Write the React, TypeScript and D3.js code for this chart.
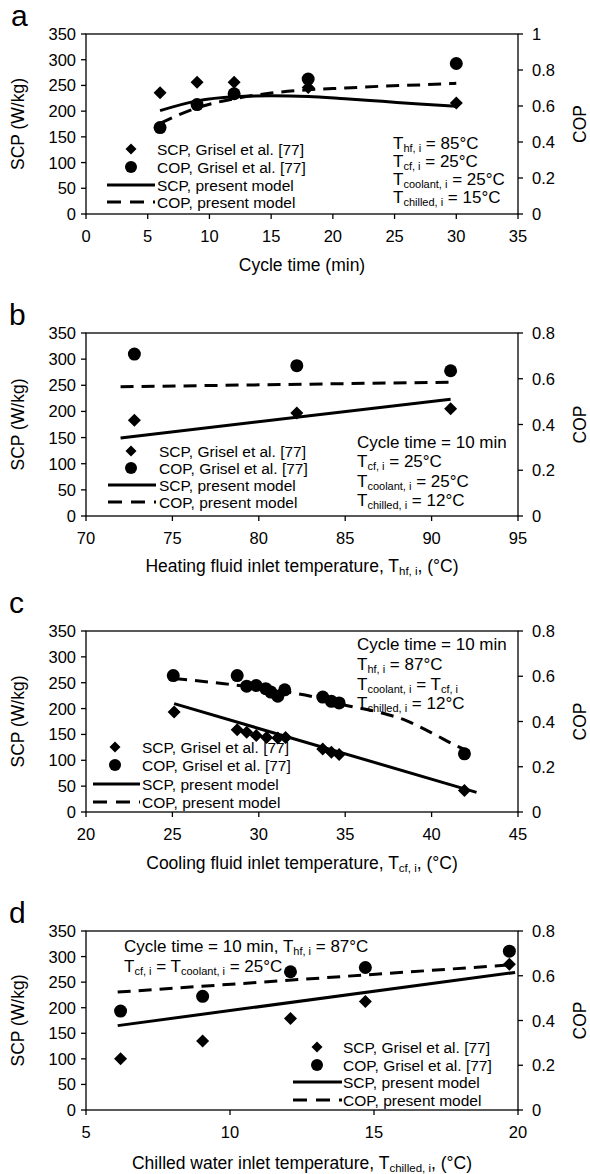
import React from "react";
import * as d3 from "d3";

// ---------- DATA ----------
// Panel a: cycle time (min)
const aExpX = [6, 9, 12, 18, 30];
const aExpScp = [236, 256, 256, 246, 216];
const aExpCop = [0.48, 0.608, 0.668, 0.75, 0.836];
const aModelX = [6, 9, 12, 15, 18, 21, 24, 27, 30];
const aModelScp = [201, 220, 228, 230, 228.6, 224, 219, 214, 209.5];
const aModelCop = [0.504, 0.59, 0.64, 0.672, 0.69, 0.7, 0.71, 0.717, 0.726];

// Panel b: heating fluid inlet temperature
const bExpX = [72.8, 82.2, 91.1];
const bExpScp = [183, 197, 205];
const bExpCop = [0.708, 0.657, 0.635];
const bModelX = [72, 91.1];
const bModelScp = [149, 223.5];
const bModelCop = [0.565, 0.585];

// Panel c: cooling fluid inlet temperature
const cExpScpX = [25.1, 28.75, 29.3, 29.85, 30.45, 31.1, 31.55, 33.7, 34.2, 34.65, 41.9];
const cExpScp = [193.5, 159, 154, 148, 144, 143, 144, 122, 115.6, 111, 41.5];
const cExpCopX = [25.05, 28.75, 29.3, 29.85, 30.4, 30.7, 31.1, 31.5, 33.7, 34.2, 34.65, 41.9];
const cExpCop = [0.603, 0.603, 0.556, 0.559, 0.545, 0.53, 0.512, 0.54, 0.508, 0.489, 0.482, 0.257];
const cModelScpX = [25.1, 42.6];
const cModelScp = [209.5, 38];
const cModelCopX = [25.1, 28, 31, 33, 35, 37, 38.5, 40, 41.5, 42.6];
const cModelCop = [0.59, 0.567, 0.538, 0.512, 0.472, 0.44, 0.405, 0.35, 0.29, 0.255];

// Panel d: chilled water inlet temperature
const dExpX = [6.2, 9.05, 12.1, 14.7, 19.7];
const dExpScp = [100, 135, 179, 212, 285];
const dExpCop = [0.442, 0.508, 0.618, 0.637, 0.71];
const dModelX = [6.1, 19.9];
const dModelScp = [165, 269];
const dModelCop = [0.527, 0.65];

// Ticks
const scpTicks = [0, 50, 100, 150, 200, 250, 300, 350];
const copTicksA = [0, 0.2, 0.4, 0.6, 0.8, 1];
const copTicks = [0, 0.2, 0.4, 0.6, 0.8];
const xTicksA = [0, 5, 10, 15, 20, 25, 30, 35];
const xTicksB = [70, 75, 80, 85, 90, 95];
const xTicksC = [20, 25, 30, 35, 40, 45];
const xTicksD = [5, 10, 15, 20];

const legendLabels = [
  "SCP, Grisel et al. [77]",
  "COP, Grisel et al. [77]",
  "SCP, present model",
  "COP, present model",
];

type Seg = { t?: string; sub?: string };

const FONT = "'Liberation Sans', Arial, Helvetica, sans-serif";
const L = 86;
const R = 518;

function Rich({ x, y, segs, size, subSize = 11, anchor = "start" }: any) {
  const out: any[] = [];
  let shifted = false;
  segs.forEach((s: Seg, i: number) => {
    if (s.sub !== undefined) {
      out.push(
        <tspan key={i} fontSize={subSize} dy={shifted ? 0 : 5}>
          {s.sub}
        </tspan>
      );
      shifted = true;
    } else {
      out.push(
        <tspan key={i} dy={shifted ? -5 : 0}>
          {s.t}
        </tspan>
      );
      shifted = false;
    }
  });
  return (
    <text x={x} y={y} fontSize={size} textAnchor={anchor} dominantBaseline="central" fontFamily={FONT} fill="#000">
      {out}
    </text>
  );
}

const diamond = (cx: number, cy: number, h: number) =>
  `M${cx},${cy - h}L${cx + h},${cy}L${cx},${cy + h}L${cx - h},${cy}Z`;

function Panel(p: any) {
  const x = d3.scaleLinear().domain(p.xDomain).range([L, R]);
  const yL = d3.scaleLinear().domain([0, 350]).range([p.bottom, p.top]);
  const yR = d3.scaleLinear().domain([0, p.copMax]).range([p.bottom, p.top]);
  const lineL = d3
    .line<number>()
    .x((_, i) => x(p.mScpX[i]))
    .y((v) => yL(v))
    .curve(d3.curveMonotoneX);
  const lineR = d3
    .line<number>()
    .x((_, i) => x(p.mCopX[i]))
    .y((v) => yR(v))
    .curve(d3.curveMonotoneX);
  const fmtR = (v: number) => (v === 0 ? "0" : v === 1 ? "1" : v.toFixed(1));
  const midY = (p.top + p.bottom) / 2;
  const lg = p.legend;
  return (
    <g>
      <text x={p.letterX} y={p.letterY} fontSize={30} fontFamily={FONT}>
        {p.letter}
      </text>
      {/* frame */}
      <rect x={L} y={p.top} width={R - L} height={p.bottom - p.top} fill="none" stroke="#000" strokeWidth={1.3} />
      {/* left ticks */}
      {scpTicks.map((t) => (
        <g key={"l" + t}>
          <line x1={L - 5} x2={L} y1={yL(t)} y2={yL(t)} stroke="#000" strokeWidth={1.3} />
          <text x={L - 10} y={yL(t)} textAnchor="end" dominantBaseline="central" fontSize={16.5} fontFamily={FONT}>
            {t}
          </text>
        </g>
      ))}
      {p.copTicks.map((t: number) => (
        <g key={"r" + t}>
          <line x1={R} x2={R + 5} y1={yR(t)} y2={yR(t)} stroke="#000" strokeWidth={1.3} />
          <text x={R + 14} y={yR(t)} textAnchor="start" dominantBaseline="central" fontSize={16.5} fontFamily={FONT}>
            {fmtR(t)}
          </text>
        </g>
      ))}
      {p.xTicks.map((t: number) => (
        <g key={"x" + t}>
          <line x1={x(t)} x2={x(t)} y1={p.bottom} y2={p.bottom + 5} stroke="#000" strokeWidth={1.3} />
          <text x={x(t)} y={p.bottom + 22} textAnchor="middle" dominantBaseline="central" fontSize={16.5} fontFamily={FONT}>
            {t}
          </text>
        </g>
      ))}
      <text
        transform={`translate(24,${midY}) rotate(-90)`}
        textAnchor="middle"
        fontSize={17.5}
        fontFamily={FONT}
      >
        SCP (W/kg)
      </text>
      <text
        transform={`translate(586,${midY}) rotate(-90)`}
        textAnchor="middle"
        fontSize={17.5}
        fontFamily={FONT}
      >
        COP
      </text>
      <Rich x={(L + R) / 2} y={p.titleY} segs={p.title} size={17.5} subSize={11.5} anchor="middle" />
      {/* model lines */}
      <path d={lineL(p.mScp) || ""} fill="none" stroke="#000" strokeWidth={3} />
      <path d={lineR(p.mCop) || ""} fill="none" stroke="#000" strokeWidth={3} strokeDasharray="13 8" />
      {/* experimental points */}
      {p.eScp.map((v: number, i: number) => (
        <path key={"d" + i} d={diamond(x(p.eScpX[i]), yL(v), 6.5)} fill="#000" />
      ))}
      {p.eCop.map((v: number, i: number) => (
        <circle key={"c" + i} cx={x(p.eCopX[i])} cy={yR(v)} r={6.5} fill="#000" />
      ))}
      {/* legend */}
      <path d={diamond(lg.mx, lg.rows[0], 5.5)} fill="#000" />
      <circle cx={lg.mx} cy={lg.rows[1]} r={6} fill="#000" />
      <line x1={lg.l0} x2={lg.l1} y1={lg.rows[2]} y2={lg.rows[2]} stroke="#000" strokeWidth={3} />
      <line x1={lg.l0} x2={lg.l1} y1={lg.rows[3]} y2={lg.rows[3]} stroke="#000" strokeWidth={3} strokeDasharray="14 9" />
      {legendLabels.map((s, i) => (
        <text key={"lg" + i} x={lg.tx} y={lg.rows[i]} dominantBaseline="central" fontSize={15.5} fontFamily={FONT}>
          {s}
        </text>
      ))}
      {p.notes.map((segs: Seg[], i: number) => (
        <Rich key={"n" + i} x={p.noteX} y={p.noteRows[i]} segs={segs} size={17} subSize={11} />
      ))}
    </g>
  );
}

export default function App() {
  const panels = [
    {
      letter: "a",
      letterX: 11,
      letterY: 26,
      top: 34,
      bottom: 214,
      titleY: 265,
      xDomain: [0, 35],
      xTicks: xTicksA,
      copMax: 1,
      copTicks: copTicksA,
      title: [{ t: "Cycle time (min)" }],
      eScpX: aExpX,
      eScp: aExpScp,
      eCopX: aExpX,
      eCop: aExpCop,
      mScpX: aModelX,
      mScp: aModelScp,
      mCopX: aModelX,
      mCop: aModelCop,
      legend: { mx: 131, tx: 157, l0: 107, l1: 155, rows: [149, 167, 185, 202] },
      noteX: 393,
      noteRows: [143, 161, 179, 197],
      notes: [
        [{ t: "T" }, { sub: "hf, i" }, { t: " = 85°C" }],
        [{ t: "T" }, { sub: "cf, i" }, { t: " = 25°C" }],
        [{ t: "T" }, { sub: "coolant, i" }, { t: " = 25°C" }],
        [{ t: "T" }, { sub: "chilled, i" }, { t: " = 15°C" }],
      ],
    },
    {
      letter: "b",
      letterX: 9,
      letterY: 325,
      top: 333,
      bottom: 516,
      titleY: 566,
      xDomain: [70, 95],
      xTicks: xTicksB,
      copMax: 0.8,
      copTicks: copTicks,
      title: [{ t: "Heating fluid inlet temperature, T" }, { sub: "hf, i" }, { t: ", (°C)" }],
      eScpX: bExpX,
      eScp: bExpScp,
      eCopX: bExpX,
      eCop: bExpCop,
      mScpX: bModelX,
      mScp: bModelScp,
      mCopX: bModelX,
      mCop: bModelCop,
      legend: { mx: 131, tx: 159, l0: 108, l1: 156, rows: [451, 468, 485, 502] },
      noteX: 357,
      noteRows: [442, 461, 481, 500],
      notes: [
        [{ t: "Cycle time = 10 min" }],
        [{ t: "T" }, { sub: "cf, i" }, { t: " = 25°C" }],
        [{ t: "T" }, { sub: "coolant, i" }, { t: " = 25°C" }],
        [{ t: "T" }, { sub: "chilled, i" }, { t: " = 12°C" }],
      ],
    },
    {
      letter: "c",
      letterX: 9,
      letterY: 613,
      top: 631,
      bottom: 812,
      titleY: 863,
      xDomain: [20, 45],
      xTicks: xTicksC,
      copMax: 0.8,
      copTicks: copTicks,
      title: [{ t: "Cooling fluid inlet temperature, T" }, { sub: "cf, i" }, { t: ", (°C)" }],
      eScpX: cExpScpX,
      eScp: cExpScp,
      eCopX: cExpCopX,
      eCop: cExpCop,
      mScpX: cModelScpX,
      mScp: cModelScp,
      mCopX: cModelCopX,
      mCop: cModelCop,
      legend: { mx: 115, tx: 142, l0: 93, l1: 140, rows: [747, 765, 784, 802] },
      noteX: 357,
      noteRows: [644, 664, 684, 703],
      notes: [
        [{ t: "Cycle time = 10 min" }],
        [{ t: "T" }, { sub: "hf, i" }, { t: " = 87°C" }],
        [{ t: "T" }, { sub: "coolant, i" }, { t: " = T" }, { sub: "cf, i" }],
        [{ t: "T" }, { sub: "chilled, i" }, { t: " = 12°C" }],
      ],
    },
    {
      letter: "d",
      letterX: 9,
      letterY: 923,
      top: 931,
      bottom: 1110,
      titleY: 1163,
      xDomain: [5, 20],
      xTicks: xTicksD,
      copMax: 0.8,
      copTicks: copTicks,
      title: [{ t: "Chilled water inlet temperature, T" }, { sub: "chilled, i" }, { t: ", (°C)" }],
      eScpX: dExpX,
      eScp: dExpScp,
      eCopX: dExpX,
      eCop: dExpCop,
      mScpX: dModelX,
      mScp: dModelScp,
      mCopX: dModelX,
      mCop: dModelCop,
      legend: { mx: 317, tx: 343, l0: 293, l1: 342, rows: [1047, 1065, 1082, 1100] },
      noteX: 124,
      noteRows: [946, 966],
      notes: [
        [{ t: "Cycle time = 10 min, T" }, { sub: "hf, i" }, { t: " = 87°C" }],
        [{ t: "T" }, { sub: "cf, i" }, { t: " = T" }, { sub: "coolant, i" }, { t: " = 25°C" }],
      ],
    },
  ];
  return (
    <svg
      width={590}
      height={1174}
      viewBox="0 0 590 1174"
      style={{ position: "absolute", left: 0, top: 0, background: "#fff" }}
    >
      <rect width={590} height={1174} fill="#fff" />
      {panels.map((p, i) => (
        <Panel key={i} {...p} />
      ))}
    </svg>
  );
}
